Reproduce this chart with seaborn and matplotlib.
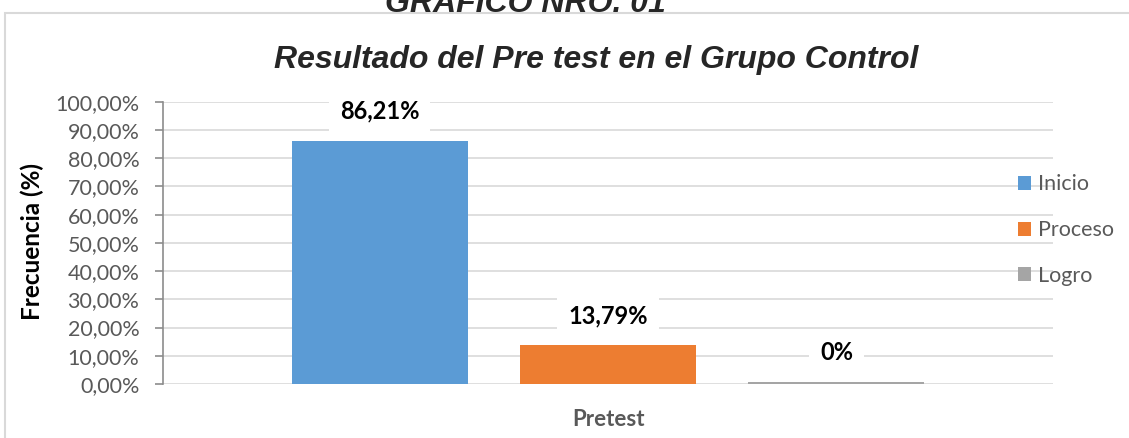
import matplotlib
matplotlib.use("Agg")
import matplotlib.pyplot as plt
import seaborn as sns
import pandas as pd
from matplotlib.patches import Rectangle
from matplotlib.ticker import FuncFormatter

# ---- data ----
categories = ["Inicio", "Proceso", "Logro"]
values = [86.21, 13.79, 0.0]
value_labels = ["86,21%", "13,79%", "0%"]
group = ["Pretest", "Pretest", "Pretest"]
colors = ["#5B9BD5", "#ED7D31", "#A5A5A5"]
y_ticks = [0, 10, 20, 30, 40, 50, 60, 70, 80, 90, 100]

sns.set_theme(style="white")
plt.rcParams["font.family"] = ["Lato", "DejaVu Sans"]

df = pd.DataFrame({"grupo": group, "categoria": categories,
                   "valor": [max(v, 0.8) for v in values]})

fig = plt.figure(figsize=(11.29, 4.38), dpi=100)
W, H = 1129, 438
ax = fig.add_axes([163 / W, 1 - 384 / H, (1053 - 163) / W, (384 - 101.7) / H])

sns.barplot(data=df, x="grupo", y="valor", hue="categoria", hue_order=categories,
            palette=colors, width=0.77, gap=0.23, ax=ax, legend=True,
            saturation=1, edgecolor="none")

ax.set_ylim(0, 100)
ax.set_xlim(-0.5, 0.5)
ax.set_yticks(y_ticks)
ax.yaxis.set_major_formatter(FuncFormatter(lambda v, p: f"{v:.2f}".replace(".", ",") + "%"))
ax.yaxis.grid(True, color="#D9D9D9", linewidth=1.2)
ax.set_axisbelow(True)
for s in ["top", "right", "bottom"]:
    ax.spines[s].set_visible(False)
ax.spines["left"].set_color("#8C8C8C")
ax.spines["left"].set_linewidth(1.2)
ax.tick_params(axis="y", which="major", left=True, length=6, width=1.2, color="#8C8C8C",
               labelsize=15.5, labelcolor="#595959", pad=11)
ax.tick_params(axis="x", length=0, labelsize=16, labelcolor="#595959", pad=18)
for t in ax.get_xticklabels():
    t.set_fontweight("bold")
ax.set_xlabel("")
ax.set_ylabel("")
fig.text(32 / W, 1 - 241.5 / H, "Frecuencia (%)", rotation=90, ha="center", va="center",
         fontsize=17.5, fontweight="bold", color="black")

# data labels
for cont, lab in zip(ax.containers, value_labels):
    ax.bar_label(cont, labels=[lab], padding=13, fontsize=17, fontweight="bold",
                 color="black",
                 bbox=dict(facecolor="white", edgecolor="none", pad=8))

# legend
leg = ax.legend(loc="center left", bbox_to_anchor=(0.951, 0.545), frameon=False,
                handlelength=0.62, handleheight=0.62, handletextpad=0.3,
                labelspacing=1.2, fontsize=15.5, borderaxespad=0)
for t in leg.get_texts():
    t.set_color("#595959")

# titles
fig.text(596 / W, 1 - 60 / H, "Resultado del Pre test en el Grupo Control",
         ha="center", va="center", fontsize=23, fontweight="bold", fontstyle="italic",
         family=["Liberation Sans", "DejaVu Sans"])
fig.text(525 / W, 1 - 12 / H, "GRÁFICO NRO. 01", ha="center", va="baseline",
         fontsize=23, fontweight="bold", fontstyle="italic",
         family=["Liberation Sans", "DejaVu Sans"])

# chart border
fig.patches.append(Rectangle((5 / W, -0.1), 1.2, 1 - 13 / H + 0.1, transform=fig.transFigure,
                             fill=False, edgecolor="#D9D9D9", linewidth=1.5, zorder=0))

fig.savefig("out.png", dpi=100)
